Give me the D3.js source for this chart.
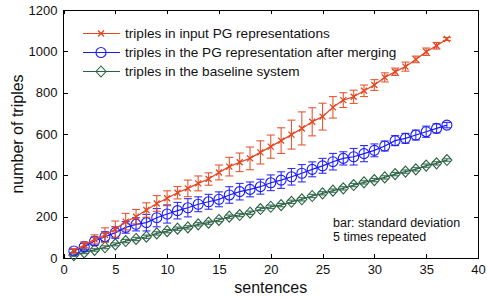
<!DOCTYPE html>
<html>
<head>
<meta charset="utf-8">
<script src="https://d3js.org/d3.v7.min.js"></script>
<style>
body { margin: 0; background: #fff; }
text { font-family: "Liberation Sans", Arial, sans-serif; fill: #111; }
.axis path, .axis line { stroke: #000; stroke-width: 1; shape-rendering: crispEdges; }
</style>
</head>
<body>
<script>
const sentences = d3.range(1, 38);

const inputMean = [35, 63, 90, 111, 139, 176, 200, 232, 264, 289, 316, 337, 361, 382, 414, 442, 463, 482, 511,
  539, 568, 597, 627, 659, 684, 729, 764, 780, 809, 837, 874, 901, 926, 961, 998, 1027, 1060];
const inputStd = [10, 15, 22, 35, 40, 40, 35, 35, 38, 36, 30, 40, 36, 30, 36, 45, 45, 55, 56,
  56, 62, 70, 80, 68, 65, 52, 36, 32, 28, 26, 22, 18, 22, 16, 18, 16, 7];

const mergedMean = [34, 55, 82, 103, 123, 148, 163, 171, 195, 213, 229, 243, 260, 272, 284, 305, 321, 332, 345,
  364, 377, 393, 410, 429, 446, 466, 482, 490, 505, 521, 542, 568, 579, 595, 611, 627, 643];
const mergedStd = [8, 16, 20, 24, 28, 28, 32, 40, 44, 44, 40, 44, 36, 36, 36, 40, 40, 36, 36,
  38, 40, 40, 42, 36, 36, 40, 32, 40, 39, 31, 24, 24, 24, 24, 27, 22, 13];

const baseMean = [14, 27, 39, 52, 66, 82, 92, 103, 119, 130, 142, 148, 163, 171, 184, 200, 208, 219, 237,
  248, 256, 272, 284, 300, 313, 326, 337, 353, 366, 377, 390, 406, 418, 429, 447, 458, 474];
const baseStd = [5, 6, 6, 7, 7, 8, 8, 8, 8, 8, 8, 8, 8, 8, 8, 8, 8, 8, 8,
  8, 8, 8, 8, 8, 8, 8, 8, 8, 8, 8, 8, 8, 8, 8, 8, 8, 6];

const xTicks = [0, 5, 10, 15, 20, 25, 30, 35, 40];
const yTicks = [0, 200, 400, 600, 800, 1000, 1200];
const legendLabels = ["triples in input PG representations",
  "triples in the PG representation after merging",
  "triples in the baseline system"];

const W = 487, H = 298;
const margin = {top: 10, right: 9, bottom: 40, left: 63.5};
const width = W - margin.left - margin.right;
const height = H - margin.top - margin.bottom;

const svg = d3.select("body").append("svg").attr("width", W).attr("height", H);
const g = svg.append("g").attr("transform", "translate(" + margin.left + "," + margin.top + ")");

const x = d3.scaleLinear().domain([0, 40]).range([0, width]);
const y = d3.scaleLinear().domain([0, 1200]).range([height, 0]);

// box + ticks (inside)
g.append("rect").attr("width", width).attr("height", height)
  .attr("fill", "none").attr("stroke", "#000").attr("shape-rendering", "crispEdges");

const fmt = d3.format("d");
const xb = g.append("g").attr("class", "axis").attr("transform", "translate(0," + height + ")")
  .call(d3.axisBottom(x).tickValues(xTicks).tickFormat(fmt).tickSizeInner(-4).tickSizeOuter(0).tickPadding(7));
const xt = g.append("g").attr("class", "axis")
  .call(d3.axisTop(x).tickValues(xTicks).tickSizeInner(-4).tickSizeOuter(0).tickFormat(""));
const yl = g.append("g").attr("class", "axis")
  .call(d3.axisLeft(y).tickValues(yTicks).tickFormat(fmt).tickSizeInner(-4).tickSizeOuter(0).tickPadding(6));
const yr = g.append("g").attr("class", "axis").attr("transform", "translate(" + width + ",0)")
  .call(d3.axisRight(y).tickValues(yTicks).tickSizeInner(-4).tickSizeOuter(0).tickFormat(""));
[xb, xt, yl, yr].forEach(a => a.select(".domain").remove());
svg.selectAll(".axis text").style("font-size", "13px").style("fill", "#111");

// axis labels
svg.append("text").attr("x", margin.left + width / 2).attr("y", 293)
  .attr("text-anchor", "middle").style("font-size", "16px").text("sentences");
svg.append("text").attr("transform", "translate(23," + (margin.top + height / 2) + ") rotate(-90)")
  .attr("text-anchor", "middle").style("font-size", "16px").text("number of triples");

const series = [
  {mean: inputMean, std: inputStd, color: "#e4461f", marker: "x"},
  {mean: mergedMean, std: mergedStd, color: "#1a1aff", marker: "o"},
  {mean: baseMean, std: baseStd, color: "#2a6244", marker: "d"}
];

function drawMarker(sel, type, color) {
  if (type === "x") {
    sel.append("path").attr("d", "M-3,-3L3,3M-3,3L3,-3")
      .attr("stroke", color).attr("stroke-width", 1.3).attr("fill", "none");
  } else if (type === "o") {
    sel.append("circle").attr("r", 5).attr("fill", "none")
      .attr("stroke", color).attr("stroke-width", 1.1);
  } else {
    sel.append("path").attr("d", "M0,-5.5L5,0L0,5.5L-5,0Z").attr("fill", "none")
      .attr("stroke", color).attr("stroke-width", 1.1);
  }
}

const line = d3.line().x((d, i) => x(sentences[i])).y(d => y(d));

series.slice().reverse().forEach(s => {
  const sg = g.append("g");
  // error bars
  const eb = sg.selectAll(".eb").data(s.mean).join("g")
    .attr("stroke", s.color).attr("stroke-width", 1.1).attr("opacity", 0.9);
  eb.append("line")
    .attr("x1", (d, i) => x(sentences[i])).attr("x2", (d, i) => x(sentences[i]))
    .attr("y1", (d, i) => y(d - s.std[i])).attr("y2", (d, i) => y(d + s.std[i]));
  eb.append("line")
    .attr("x1", (d, i) => x(sentences[i]) - 4).attr("x2", (d, i) => x(sentences[i]) + 4)
    .attr("y1", (d, i) => y(d - s.std[i])).attr("y2", (d, i) => y(d - s.std[i]));
  eb.append("line")
    .attr("x1", (d, i) => x(sentences[i]) - 4).attr("x2", (d, i) => x(sentences[i]) + 4)
    .attr("y1", (d, i) => y(d + s.std[i])).attr("y2", (d, i) => y(d + s.std[i]));
  sg.append("path").attr("d", line(s.mean)).attr("fill", "none")
    .attr("stroke", s.color).attr("stroke-width", 1.2);
  sg.selectAll(".mk").data(s.mean).join("g")
    .attr("transform", (d, i) => "translate(" + x(sentences[i]) + "," + y(d) + ")")
    .each(function () { drawMarker(d3.select(this), s.marker, s.color); });
});

// legend
const legendY = [33.5, 52.5, 71.5];
series.forEach((s, i) => {
  const lg = svg.append("g").attr("transform", "translate(0," + legendY[i] + ")");
  lg.append("line").attr("x1", 83).attr("x2", 120).attr("stroke", s.color).attr("stroke-width", 1.2);
  const m = lg.append("g").attr("transform", "translate(101,0)");
  drawMarker(m, s.marker, s.color);
  lg.append("text").attr("x", 125).attr("y", 4.8).style("font-size", "13.6px").text(legendLabels[i]);
});

// note
svg.append("text").attr("x", 333).attr("y", 227).style("font-size", "12.5px").text("bar: standard deviation");
svg.append("text").attr("x", 333).attr("y", 241).style("font-size", "12.5px").text("5 times repeated");
</script>
</body>
</html>
